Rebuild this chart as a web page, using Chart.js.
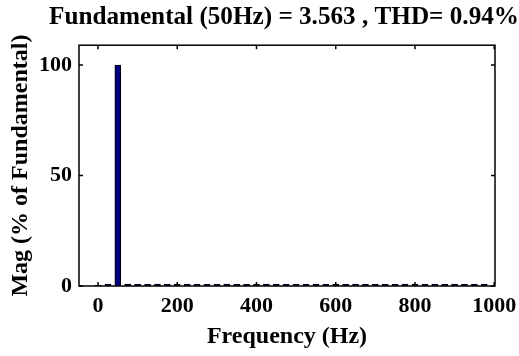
<!DOCTYPE html>
<html>
<head>
<meta charset="utf-8">
<script src="https://cdn.jsdelivr.net/npm/chart.js@4/dist/chart.umd.min.js"></script>
<style>
html,body{margin:0;padding:0;background:#fff;}
#wrap{width:519px;height:356px;}
</style>
</head>
<body>
<div id="wrap"><canvas id="c" width="519" height="356"></canvas></div>
<script>
// Frequency bins (Hz) and magnitudes (% of fundamental)
const freqs = [0,25,50,75,100,125,150,175,200,225,250,275,300,325,350,375,400,425,450,475,500,525,550,575,600,625,650,675,700,725,750,775,800,825,850,875,900,925,950,975];
const mags  = [0.4,0.8,100,0.9,0.8,0.8,0.9,0.8,0.8,0.9,0.8,0.8,0.8,0.9,0.8,0.8,0.8,0.9,0.8,0.8,0.8,0.8,0.9,0.8,0.8,0.8,0.9,0.8,0.8,0.8,0.8,0.9,0.8,0.8,0.8,0.8,0.9,0.8,0.8,0.8];
const xTicks = [0,200,400,600,800,1000];
const yTicks = [0,50,100];
const titleText = 'Fundamental (50Hz) = 3.563 , THD= 0.94%';
const xLabel = 'Frequency (Hz)';
const yLabel = 'Mag (% of Fundamental)';

const FONT = "'Liberation Serif', 'Times New Roman', serif";

const framePlugin = {
  id: 'frame',
  afterLayout(chart) {
    // centre the title a little right of the canvas middle, as in the reference
    const tb = chart.titleBlock, a = chart.chartArea;
    if (tb) {
      tb.left = a.left - 30;
      tb.right = chart.width;
      tb.width = tb.right - tb.left;
    }
  },
  afterDatasetsDraw(chart) {
    const {ctx, chartArea: a, scales} = chart;
    ctx.save();
    ctx.strokeStyle = '#000';
    ctx.lineWidth = 1.5;
    ctx.strokeRect(a.left, a.top, a.right - a.left, a.bottom - a.top);
    const tl = 4;
    ctx.beginPath();
    scales.x.ticks.forEach(t => {
      const px = scales.x.getPixelForValue(t.value);
      ctx.moveTo(px, a.bottom); ctx.lineTo(px, a.bottom - tl);
      ctx.moveTo(px, a.top); ctx.lineTo(px, a.top + tl);
    });
    scales.y.ticks.forEach(t => {
      const py = scales.y.getPixelForValue(t.value);
      ctx.moveTo(a.left, py); ctx.lineTo(a.left + tl, py);
      ctx.moveTo(a.right, py); ctx.lineTo(a.right - tl, py);
    });
    ctx.stroke();
    ctx.restore();
  }
};

new Chart(document.getElementById('c'), {
  type: 'bar',
  data: {
    datasets: [{
      data: freqs.map((f, i) => ({x: f, y: mags[i]})),
      backgroundColor: '#00007f',
      borderColor: '#000000',
      borderWidth: 1,
      barThickness: 6
    }]
  },
  options: {
    responsive: false,
    animation: false,
    devicePixelRatio: 1,
    layout: {padding: {left: 0, right: 24, top: 0, bottom: 0}},
    plugins: {
      legend: {display: false},
      tooltip: {enabled: false},
      title: {
        display: true,
        text: titleText,
        color: '#000',
        font: {family: FONT, size: 26, weight: 'bold', lineHeight: 1.2},
        padding: {top: 2, bottom: 12},
        align: 'center'
      }
    },
    scales: {
      x: {
        type: 'linear',
        min: -48,
        max: 1002,
        offset: false,
        afterBuildTicks: s => { s.ticks = xTicks.map(v => ({value: v})); },
        afterFit: s => { s.height = 70; s.paddingLeft = 0; s.paddingRight = 0; },
        grid: {display: false, drawTicks: false},
        border: {display: false},
        ticks: {color: '#000', font: {family: FONT, size: 22, weight: 'bold'}, padding: 7, maxRotation: 0, callback: v => String(v)},
        title: {display: true, text: xLabel, color: '#000', font: {family: FONT, size: 24, weight: 'bold', lineHeight: 1.2}, padding: {top: 0, bottom: 5}}
      },
      y: {
        type: 'linear',
        min: 0,
        max: 109,
        afterBuildTicks: s => { s.ticks = yTicks.map(v => ({value: v})); },
        afterFit: s => { s.width = 79; },
        grid: {display: false, drawTicks: false},
        border: {display: false},
        ticks: {color: '#000', font: {family: FONT, size: 22, weight: 'bold'}, padding: 7, callback: v => String(v)},
        title: {display: true, text: yLabel, color: '#000', font: {family: FONT, size: 24, weight: 'bold', lineHeight: 1.2}, padding: {top: 6, bottom: 0}}
      }
    }
  },
  plugins: [framePlugin]
});
</script>
</body>
</html>
